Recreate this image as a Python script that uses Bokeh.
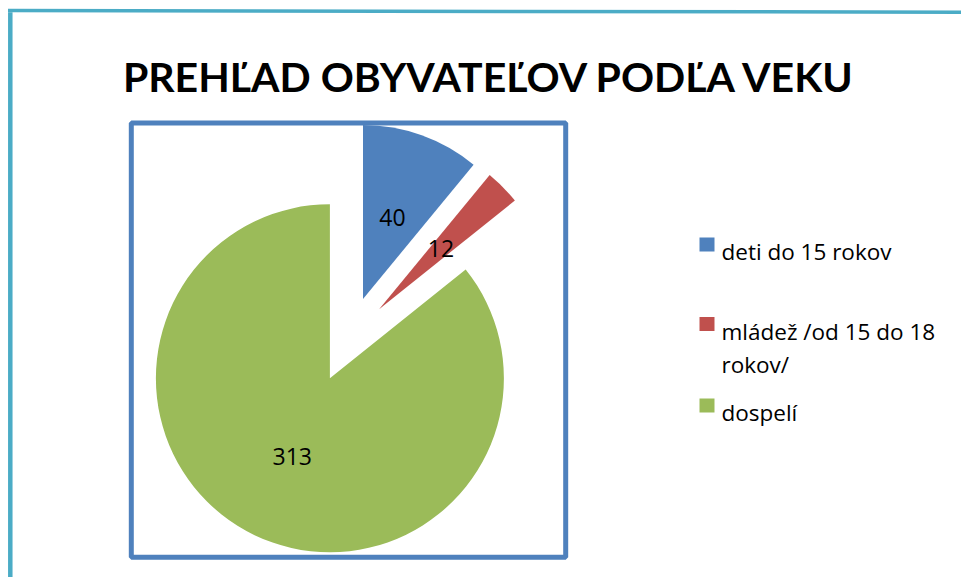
import math
from bokeh.plotting import figure
from bokeh.models import Range1d, ColumnDataSource
from bokeh.core.properties import value
from bokeh.embed import file_html
from bokeh.resources import INLINE

# ---- data ----
categories = ["deti do 15 rokov", "mládež /od 15 do 18 rokov/", "dospelí"]
legend_lines = [["deti do 15 rokov"], ["mládež /od 15 do 18", "rokov/"], ["dospelí"]]
values = [40, 12, 313]
colors = ["#4F81BD", "#C0504D", "#9BBB59"]
title = "PREHĽAD OBYVATEĽOV PODĽA VEKU"

W, H = 961, 577
p = figure(width=W, height=H, output_backend="svg", toolbar_location=None,
           x_range=Range1d(0, W), y_range=Range1d(0, H),
           x_axis_type=None, y_axis_type=None, min_border=0)
p.grid.visible = False
p.outline_line_color = None
p.background_fill_color = "white"
p.border_fill_color = "white"

def Y(ys):
    return H - ys

# slide frame lines (cyan)
p.segment(x0=[9.8, 7.5], y0=[Y(11.7), Y(10)], x1=[9.8, W], y1=[Y(H), Y(11.7)],
          line_color="#4BACC6", line_width=[4.5, 3.5])

# chart box
p.quad(left=[130.8], right=[565.2], top=[Y(122.5)], bottom=[Y(556.7)],
       fill_color=None, line_color="#4F81BD", line_width=5)

# pie
cx, cy = 348.0, Y(339.0)
r = 174.0
explode = 43.0
total = float(sum(values))
starts, ends, xs, ys, lx, ly = [], [], [], [], [], []
cum = 0.0
for v in values:
    a0 = math.pi / 2 - 2 * math.pi * cum / total
    cum += v
    a1 = math.pi / 2 - 2 * math.pi * cum / total
    mid = (a0 + a1) / 2
    ox = cx + explode * math.cos(mid)
    oy = cy + explode * math.sin(mid)
    starts.append(a0); ends.append(a1); xs.append(ox); ys.append(oy)
    lx.append(ox + 0.5 * r * math.cos(mid))
    ly.append(oy + 0.5 * r * math.sin(mid))

src = ColumnDataSource(dict(x=xs, y=ys, s=starts, e=ends, c=colors,
                            lx=lx, ly=ly, t=[str(v) for v in values]))
p.wedge(x="x", y="y", radius=r, start_angle="s", end_angle="e", direction="clock",
        fill_color="c", line_color=None, source=src)
p.text(x="lx", y="ly", text="t", source=src, text_font=value("Open Sans"),
       text_font_size="23px", text_color="black", text_align="center",
       text_baseline="middle")

# title
p.text(x=[489.5], y=[Y(76)], text=[title], text_font=value("Lato"),
       text_font_size="41px", text_font_style="bold", text_color="black",
       text_align="center", text_baseline="alphabetic")

# legend
sq_y = [244, 323.5, 405]
base_y = [250.7, 330.7, 411.7]
line_gap = 33.3
p.rect(x=[706.5] * 3, y=[Y(v) for v in sq_y], width=15, height=14,
       fill_color=colors, line_color=None)
tx, ty, tt = [], [], []
for lines, b in zip(legend_lines, base_y):
    for k, ln in enumerate(lines):
        tx.append(721); ty.append(Y(b + k * line_gap)); tt.append(ln)
p.text(x=tx, y=ty, text=tt, text_font=value("Open Sans"), text_font_size="22.5px",
       text_color="black", text_align="left", text_baseline="alphabetic")

open("out.html", "w").write(file_html(p, INLINE))
